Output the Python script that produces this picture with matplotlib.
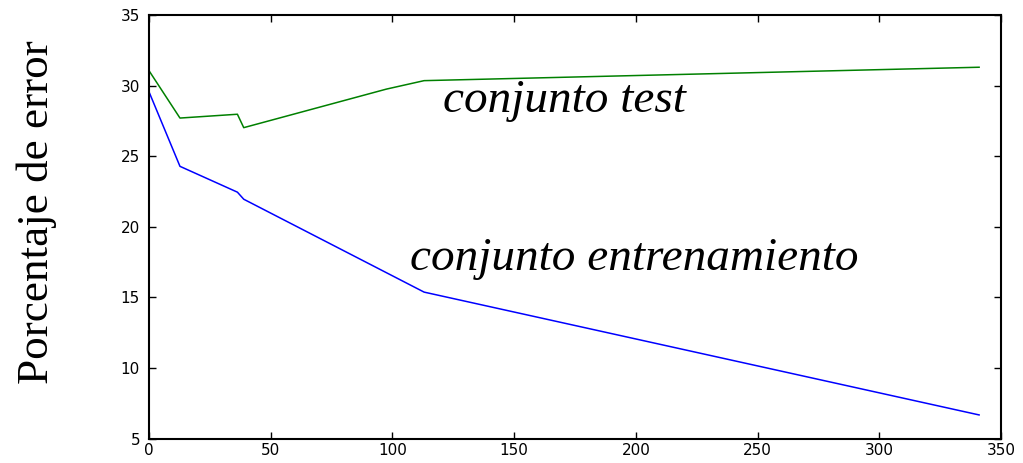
import matplotlib
matplotlib.use("Agg")
import matplotlib.pyplot as plt

# Data
test_x = [0, 12.7, 36.3, 38.9, 97.5, 113, 341]
test_y = [31.05, 27.7, 27.97, 27.02, 29.75, 30.35, 31.3]
train_x = [0, 12.7, 36.3, 38.9, 113, 341]
train_y = [29.55, 24.28, 22.45, 21.95, 15.37, 6.67]

xticks = [0, 50, 100, 150, 200, 250, 300, 350]
yticks = [5, 10, 15, 20, 25, 30, 35]

fig = plt.figure(figsize=(10.23, 4.63), dpi=100)
ax = fig.add_axes([0.1457, 0.0529, 0.9785 - 0.1457, 0.9676 - 0.0529])

ax.plot(test_x, test_y, color="#008000", lw=1.1)
ax.plot(train_x, train_y, color="#0000ff", lw=1.1)

ax.set_xlim(0, 350)
ax.set_ylim(5, 35)
ax.set_xticks(xticks)
ax.set_yticks(yticks)
ax.tick_params(direction="in", length=5, width=1, top=True, right=True,
               labelsize=11)
ax.tick_params(axis="x", pad=3.5)
ax.tick_params(axis="y", pad=6.5)
for lab in ax.get_xticklabels() + ax.get_yticklabels():
    lab.set_family("DejaVu Sans")
for s in ax.spines.values():
    s.set_linewidth(1.5)

fig.text(37 / 1023, 0.541, "Porcentaje de error", family="Liberation Serif",
         fontsize=32.5, rotation=90, ha="center", va="center")

ax.text(120.8, 28.15, "conjunto test", family="Liberation Serif",
        style="italic", fontsize=34, ha="left", va="baseline")
ax.text(107.3, 16.94, "conjunto entrenamiento", family="Liberation Serif",
        style="italic", fontsize=34, ha="left", va="baseline")

fig.savefig("out.png", dpi=100)
